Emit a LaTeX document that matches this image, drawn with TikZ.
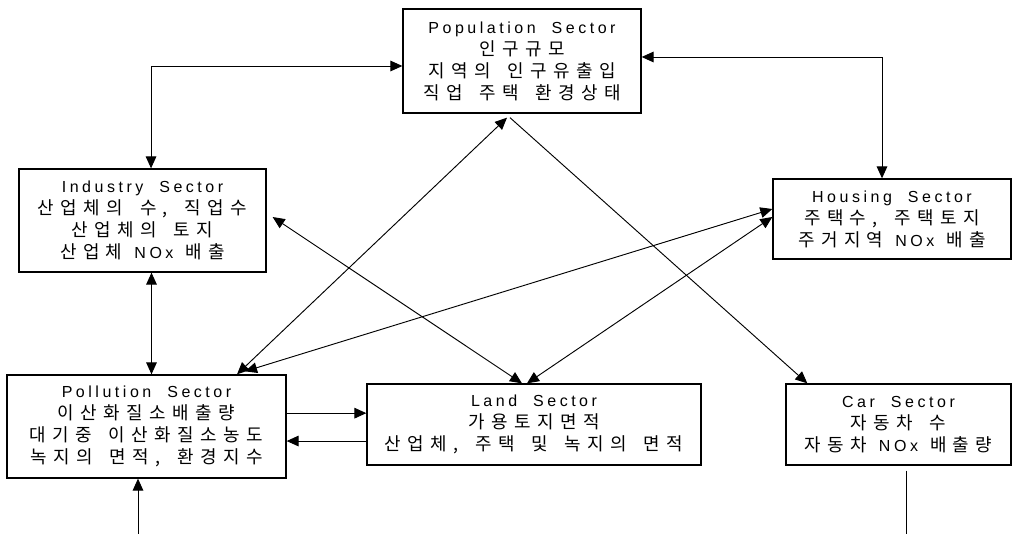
\documentclass[tikz,border=0pt]{standalone}
\usepackage{fontspec}
\setmainfont{Liberation Sans}[LetterSpace=22]
\newfontfamily\kr{Noto Sans CJK KR}[LetterSpace=36,Scale=1.12,WordSpace=1.6]
\newcommand{\secname}[1]{#1\hspace{12pt}Sector}
\newcommand{\nox}{\hspace{9pt}NOx\hspace{9pt}}
\usetikzlibrary{arrows.meta,positioning,calc}

\begin{document}
\begin{tikzpicture}[
    x=0.75pt, y=-0.75pt,
    sector/.style={rectangle, draw=black, line width=1pt, align=center, inner sep=0pt, font=\fontsize{12}{16.5}\selectfont},
    arrow/.style={->, line width=0.7pt},
    both/.style={<->, line width=0.7pt},
    >={Triangle[length=9pt,width=8pt]}
]
    \useasboundingbox (0,0) rectangle (1021,534);

    \node[sector, minimum width=178.5pt, minimum height=78pt] (pop) at (522,61)
        {\secname{Population}\\{\kr 인구규모}\\{\kr 지역의 인구유출입}\\{\kr 직업 주택 환경상태}};
    \node[sector, minimum width=185.25pt, minimum height=77.25pt] (ind) at (142.5,220.5)
        {\secname{Industry}\\{\kr 산업체의 수, 직업수}\\{\kr 산업체의 토지}\\{\kr 산업체}\nox{\kr 배출}};
    \node[sector, minimum width=178.5pt, minimum height=60pt] (hou) at (892,219)
        {\secname{Housing}\\{\kr 주택수, 주택토지}\\{\kr 주거지역}\nox{\kr 배출}};
    \node[sector, minimum width=209.25pt, minimum height=77.25pt] (pol) at (146.5,426.5)
        {\secname{Pollution}\\{\kr 이산화질소배출량}\\{\kr 대기중 이산화질소농도}\\{\kr 녹지의 면적, 환경지수}};
    \node[sector, minimum width=250.5pt, minimum height=60.75pt] (land) at (534,424.5)
        {\secname{Land}\\{\kr 가용토지면적}\\{\kr 산업체, 주택 및 녹지의 면적}};
    \node[sector, minimum width=168.75pt, minimum height=60.75pt] (car) at (898.5,424.5)
        {\secname{Car}\\{\kr 자동차 수}\\{\kr 자동차}\nox{\kr 배출량}};

    \coordinate (polin) at (138,534);
    \coordinate (carout) at (906,534);

    % elbow links to the population sector
    \draw[both] ([xshift=6.4pt]ind.north) |- ([yshift=-3.75pt]pop.west);
    \draw[both] ([yshift=3pt]pop.east) -| ([xshift=-7.5pt]hou.north);
    \draw[both] ([xshift=6.75pt]ind.south) -- ([xshift=6.75pt]ind.south |- pol.north);

    % pollution <-> land
    \draw[arrow] ([yshift=10pt]pol.east) -- ([yshift=10pt]pol.east -| land.west);
    \draw[arrow] ([yshift=-12.4pt]land.west) -- ([yshift=-12.4pt]land.west -| pol.east);

    % open ends
    \draw[arrow] (polin) -- (polin |- pol.south);
    \draw ([yshift=-3.75pt]car.south -| carout) -- (carout);

    % diagonals
    \draw[both] ([xshift=67.9pt]pol.north) -- ([xshift=-11.25pt,yshift=-3pt]pop.south);
    \draw[arrow] ([xshift=-9pt,yshift=-3pt]pop.south) -- ([xshift=16.5pt]car.north west);
    \draw[both] ([xshift=4.5pt,yshift=2.6pt]ind.east) -- ([xshift=-9pt]land.north);
    \draw[both] ([xshift=73.9pt,yshift=2.25pt]pol.north) -- ([yshift=7.5pt]hou.west);
    \draw[both] ([xshift=-5.25pt]land.north) -- ([yshift=1.5pt]hou.west);
\end{tikzpicture}
\end{document}
